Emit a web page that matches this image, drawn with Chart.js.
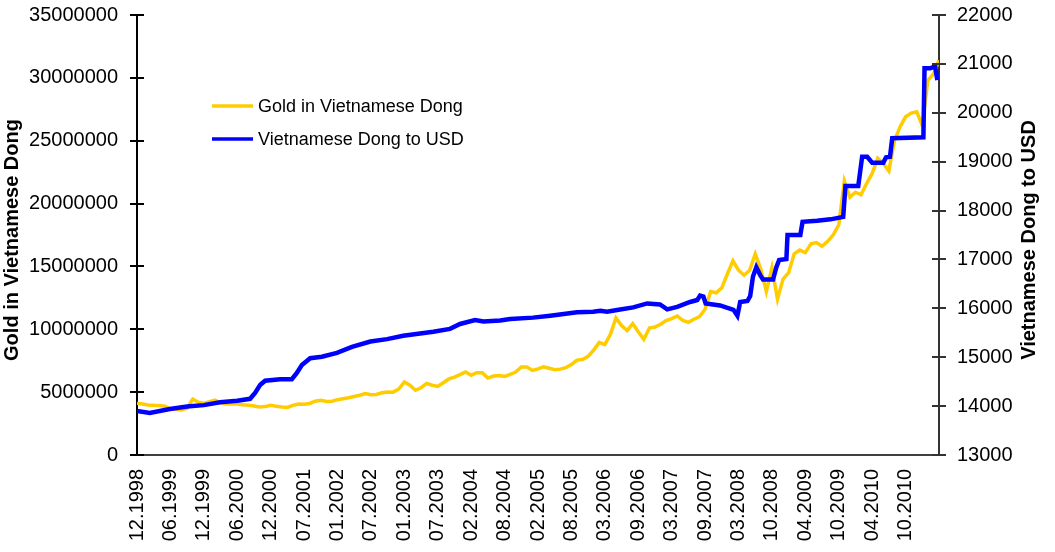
<!DOCTYPE html>
<html>
<head>
<meta charset="utf-8">
<script src="https://cdn.jsdelivr.net/npm/chart.js@4.4.0/dist/chart.umd.min.js"></script>
<style>
  html, body { margin: 0; padding: 0; background: #fff; }
  #wrap { width: 1055px; height: 552px; }
</style>
</head>
<body>
<div id="wrap"><canvas id="goldChart" width="1055" height="552"></canvas></div>
<script>
// tick labels on the date axis, one every 6 points
const tickLabels = ['12.1998', '06.1999', '12.1999', '06.2000', '12.2000', '07.2001', '01.2002', '07.2002',
  '01.2003', '07.2003', '02.2004', '08.2004', '02.2005', '08.2005', '03.2006', '09.2006',
  '03.2007', '09.2007', '03.2008', '10.2008', '04.2009', '10.2009', '04.2010', '10.2010'];
const pointsPerLabel = 6;

// gold price in Dong, one value per point
const goldValues = [
  4110000, 4050000, 3980000, 3950000, 3930000, 3880000, 3680000, 3620000, 3580000, 3710000,
  4450000, 4200000, 4110000, 4250000, 4360000, 4150000, 4060000, 4080000, 4060000, 4000000,
  3950000, 3900000, 3820000, 3850000, 3950000, 3880000, 3820000, 3790000, 3950000, 4060000,
  4040000, 4100000, 4280000, 4360000, 4260000, 4280000, 4400000, 4470000, 4550000, 4650000,
  4750000, 4880000, 4800000, 4820000, 4960000, 5010000, 5000000, 5250000, 5800000, 5550000,
  5150000, 5350000, 5700000, 5550000, 5450000, 5750000, 6050000, 6200000, 6400000, 6600000,
  6350000, 6550000, 6550000, 6120000, 6280000, 6330000, 6250000, 6420000, 6600000, 7000000,
  7000000, 6730000, 6850000, 7020000, 6900000, 6780000, 6830000, 6950000, 7200000, 7550000,
  7600000, 7850000, 8350000, 8950000, 8780000, 9600000, 10900000, 10300000, 9900000, 10450000,
  9800000, 9200000, 10100000, 10180000, 10400000, 10700000, 10850000, 11060000, 10700000, 10550000,
  10800000, 11000000, 11600000, 13000000, 12900000, 13300000, 14400000, 15450000, 14700000, 14300000,
  14700000, 16000000, 14800000, 13000000, 14900000, 12400000, 14000000, 14500000, 16000000, 16300000,
  16100000, 16800000, 16900000, 16600000, 17000000, 17500000, 18300000, 21800000, 20500000, 20900000,
  20700000, 21600000, 22400000, 23600000, 23200000, 22600000, 25000000, 26100000, 26900000, 27200000,
  27300000, 26200000, 29800000, 30300000, 31400000
];

// Dong per USD: positions (in points) where the rate changes, and the rate there
const usdPos = [
  0, 2.3, 5.9, 9.0, 12.0, 14.9, 18.0, 20.3, 21.2, 22.1, 23.0, 25.7, 27.8, 28.7, 29.6, 31.1,
  33.2, 35.9, 38.6, 41.9, 44.9, 47.8, 53.2, 56.2, 58.0, 60.7, 62.2, 65.2, 67.0, 71.1, 74.2,
  79.0, 81.9, 83.2, 84.4, 86.2, 89.1, 91.6, 93.9, 95.2, 97.0, 99.3, 100.6, 101.1, 101.7, 102.1,
  104.7, 107.1, 107.8, 108.3, 109.6, 110.1, 110.6, 111.2, 111.9, 112.4, 114.2, 114.8, 115.3,
  116.6, 116.8, 119.1, 119.5, 122.1, 124.5, 126.8, 127.2, 129.5, 130.2, 131.1, 132.0, 134.0,
  134.5, 135.2, 135.6, 141.2, 141.4, 142.4, 143.3, 143.7
];
const usdValues = [
  13900, 13860, 13940, 13990, 14020, 14080, 14110, 14150, 14270, 14430, 14520, 14550, 14550, 14680, 14840, 14980,
  15010, 15090, 15210, 15320, 15370, 15440, 15520, 15580, 15680, 15760, 15730, 15750, 15780, 15810, 15850,
  15920, 15930, 15950, 15930, 15965, 16020, 16100, 16080, 15980, 16030, 16130, 16170, 16260, 16240, 16100,
  16060, 15970, 15850, 16130, 16150, 16250, 16650, 16840, 16680, 16590, 16590, 16840, 16990,
  17010, 17500, 17500, 17770, 17790, 17820, 17870, 18500, 18500, 19100, 19100, 18980, 18980,
  19090, 19100, 19480, 19500, 20910, 20910, 20950, 20670
];

const FONT = '"Liberation Sans", Arial, sans-serif';
Chart.defaults.font.family = FONT;
Chart.defaults.color = '#000';

// axis titles, legend and the crossing tick marks
const decorations = {
  id: 'decorations',
  afterDraw(chart) {
    const ctx = chart.ctx;
    const area = chart.chartArea;
    ctx.save();

    [['y', area.left, '#000'], ['y1', area.right, '#333']].forEach(function(item) {
      const s = chart.scales[item[0]];
      ctx.strokeStyle = item[2];
      ctx.lineWidth = 2;
      s.ticks.forEach(function(t) {
        const py = Math.round(s.getPixelForValue(t.value));
        ctx.beginPath();
        ctx.moveTo(item[1] - 7, py);
        ctx.lineTo(item[1] + 7, py);
        ctx.stroke();
      });
    });

    const midY = (area.top + area.bottom) / 2 + 5;
    ctx.fillStyle = '#000';
    ctx.font = 'bold 20px ' + FONT;
    ctx.textAlign = 'center';
    ctx.textBaseline = 'middle';
    [['Gold in Vietnamese Dong', 12], ['Vietnamese Dong to USD', 1029]].forEach(function(t) {
      ctx.save();
      ctx.translate(t[1], midY);
      ctx.rotate(-Math.PI / 2);
      ctx.fillText(t[0], 0, 0);
      ctx.restore();
    });

    ctx.font = '18px ' + FONT;
    ctx.textAlign = 'left';
    chart.data.datasets.forEach(function(ds, i) {
      const ly = 106 + i * 33;
      ctx.strokeStyle = ds.borderColor;
      ctx.lineWidth = 3.5;
      ctx.beginPath();
      ctx.moveTo(212, ly);
      ctx.lineTo(253, ly);
      ctx.stroke();
      ctx.fillText(ds.label, 258, ly + 1);
    });

    ctx.restore();
  }
};

// fixed axis sizes so the plot area sits where it does in the original
function fixVertical(width) {
  return function(s) {
    s.width = width;
    s.paddingTop = 0;
    s.paddingBottom = 0;
  };
}

const ctx = document.getElementById('goldChart').getContext('2d');
const goldChart = new Chart(ctx, {
  type: 'line',
  data: {
    datasets: [{
      label: 'Gold in Vietnamese Dong',
      data: goldValues.map(function(v, i) { return { x: i, y: v }; }),
      borderColor: '#FFCC00',
      borderWidth: 3.5,
      pointRadius: 0,
      tension: 0,
      yAxisID: 'y',
      order: 2
    }, {
      label: 'Vietnamese Dong to USD',
      data: usdPos.map(function(p, i) { return { x: p, y: usdValues[i] }; }),
      borderColor: '#0000FF',
      borderWidth: 4.5,
      pointRadius: 0,
      tension: 0,
      yAxisID: 'y1',
      order: 1
    }]
  },
  options: {
    responsive: false,
    animation: false,
    layout: { padding: { top: 15, left: 0, right: 0, bottom: 0 } },
    plugins: {
      legend: { display: false },
      tooltip: { enabled: false }
    },
    scales: {
      x: {
        type: 'linear',
        min: 0,
        max: tickLabels.length * pointsPerLabel,
        grid: { display: false, drawTicks: false },
        border: { color: '#404040', width: 2 },
        ticks: {
          stepSize: pointsPerLabel,
          autoSkip: false,
          maxRotation: 90,
          minRotation: 90,
          padding: 14,
          font: { size: 20 },
          callback: function(v) { return tickLabels[v / pointsPerLabel] || ''; }
        },
        afterFit: function(s) {
          s.height = 97;
          s.paddingLeft = 0;
          s.paddingRight = 0;
        }
      },
      y: {
        position: 'left',
        min: 0,
        max: 35000000,
        grid: { display: false, drawTicks: false },
        border: { color: '#000', width: 2 },
        ticks: {
          stepSize: 5000000,
          padding: 19,
          font: { size: 20 },
          callback: function(v) { return String(v); }
        },
        afterFit: fixVertical(137)
      },
      y1: {
        position: 'right',
        min: 13000,
        max: 22000,
        grid: { display: false, drawTicks: false },
        border: { color: '#333', width: 2 },
        ticks: {
          stepSize: 1000,
          padding: 18,
          font: { size: 20 },
          callback: function(v) { return String(v); }
        },
        afterFit: fixVertical(116)
      }
    }
  },
  plugins: [decorations]
});
</script>
</body>
</html>
